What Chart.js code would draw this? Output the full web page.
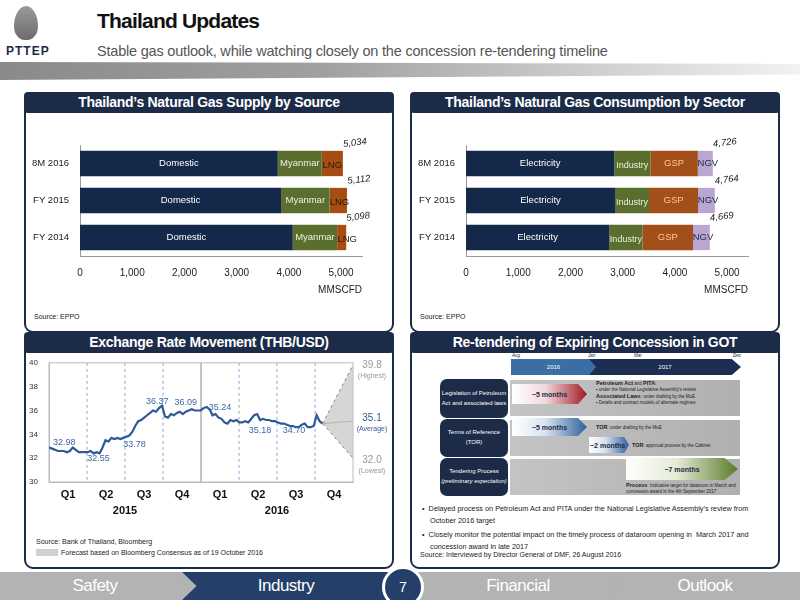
<!DOCTYPE html>
<html><head><meta charset="utf-8">
<script src="https://cdn.jsdelivr.net/npm/chart.js@4"></script>
<style>
body{margin:0;width:800px;height:600px;position:relative;background:#fff;font-family:"Liberation Sans",Arial,sans-serif;overflow:hidden}
.abs{position:absolute}
.panel{position:absolute;border:2px solid #1c2b48;border-radius:9px;background:#fff}
.tab{position:absolute;background:#1c2b48;color:#fff;font-weight:bold;font-size:14px;text-align:center;border-radius:4px;height:21px;line-height:21px;letter-spacing:-0.3px}
.src{position:absolute;font-size:7px;color:#222}
.rowbox{position:absolute;background:#1c2b48;color:#fff;border-radius:7px;font-size:6px;text-align:center;display:flex;align-items:center;justify-content:center;line-height:1.6;white-space:nowrap}
.band{position:absolute;background:linear-gradient(90deg,#c4c4c4,#b0b0b0)}
.arr{position:absolute;font-size:7px;font-weight:bold;color:#1c2b48;display:flex;align-items:center;justify-content:center;white-space:nowrap;clip-path:polygon(0 0,88% 0,100% 50%,88% 100%,0 100%);}
.tiny{position:absolute;font-size:4.5px;color:#222;line-height:1.3}
.foot{position:absolute;top:572px;height:28px;color:#fff;font-size:17px;display:flex;align-items:center;justify-content:center;letter-spacing:-0.5px}
</style></head><body>
<!-- header -->
<div class="abs" style="left:0;top:62px;width:800px;height:18px;background:linear-gradient(90deg,#8a8a8a 0%,#a0a0a0 40%,#d0d0d0 75%,#f2f2f2 100%);clip-path:polygon(0 0,100% 10%,100% 70%,0 100%)"></div>
<div class="abs" style="left:14px;top:6px;width:24px;height:34px;background:linear-gradient(#9a9a9a,#6c6c6c);border-radius:50% 50% 45% 45%/60% 60% 40% 40%"></div>
<div class="abs" style="left:6px;top:44px;font-size:12px;font-weight:bold;color:#1c2b48;letter-spacing:1px">PTTEP</div>
<div class="abs" style="left:97px;top:9px;font-size:21px;font-weight:bold;color:#111;letter-spacing:-0.8px">Thailand Updates</div>
<div class="abs" style="left:97px;top:43px;font-size:14.5px;color:#555;letter-spacing:-0.2px">Stable gas outlook, while watching closely on the concession re-tendering timeline</div>

<div class="panel" style="left:24px;top:103px;width:366px;height:226px"></div>
<div class="tab" style="left:24px;top:92px;width:370px">Thailand’s Natural Gas Supply by Source</div>
<div class="panel" style="left:410px;top:103px;width:366px;height:226px"></div>
<div class="tab" style="left:410px;top:92px;width:370px">Thailand’s Natural Gas Consumption by Sector</div>
<div class="panel" style="left:24px;top:343px;width:366px;height:222px"></div>
<div class="tab" style="left:24px;top:332px;width:370px">Exchange Rate Movement (THB/USD)</div>
<div class="panel" style="left:410px;top:343px;width:366px;height:222px"></div>
<div class="tab" style="left:410px;top:332px;width:370px">Re-tendering of Expiring Concession in GOT</div>

<canvas id="c1" class="abs" style="left:26px;top:115px" width="364" height="185"></canvas>
<canvas id="c2" class="abs" style="left:412px;top:115px" width="364" height="185"></canvas>
<canvas id="c3" class="abs" style="left:27px;top:355px" width="362" height="170"></canvas>
<div class="src" style="left:34px;top:313px">Source: EPPO</div>
<div class="src" style="left:420px;top:313px">Source: EPPO</div>
<div class="src" style="left:36px;top:538px">Source: Bank of Thailand, Bloomberg</div>
<div class="abs" style="left:36px;top:549px;width:22px;height:7px;background:#d0d0d0"></div>
<div class="src" style="left:61px;top:549px">Forecast based on Bloomberg Consensus as of 19 October 2016</div>

<!-- timeline -->
<div class="tiny" style="left:512px;top:353px;font-style:italic">Aug</div>
<div class="tiny" style="left:588px;top:353px;font-style:italic">Jan</div>
<div class="tiny" style="left:634px;top:353px;font-style:italic">Mar</div>
<div class="tiny" style="left:733px;top:353px;font-style:italic">Dec</div>
<div class="abs" style="left:511px;top:359px;width:230px;height:16px;background:#1c2f52;clip-path:polygon(0 0,96% 0,100% 50%,96% 100%,0 100%)"></div>
<div class="abs" style="left:511px;top:359px;width:85px;height:16px;background:#3c6ea6;clip-path:polygon(0 0,92% 0,100% 50%,92% 100%,0 100%);color:#fff;font-size:6px;display:flex;align-items:center;justify-content:center">2016</div>
<div class="abs" style="left:600px;top:359px;width:130px;height:16px;color:#fff;font-size:6px;display:flex;align-items:center;justify-content:center">2017</div>

<div class="band" style="left:510px;top:380px;width:230px;height:36px"></div>
<div class="band" style="left:510px;top:420px;width:230px;height:36px"></div>
<div class="band" style="left:510px;top:459px;width:230px;height:36px"></div>
<div class="rowbox" style="left:440px;top:379px;width:68px;height:39px"><div>Legislation of Petroleum<br>Act and associated laws</div></div>
<div class="rowbox" style="left:440px;top:419px;width:68px;height:38px"><div>Terms of Reference<br>(TOR)</div></div>
<div class="rowbox" style="left:440px;top:458px;width:68px;height:38px"><div>Tendering Process<br><i>(preliminary expectation)</i></div></div>
<div class="arr" style="left:512px;top:384px;width:75px;height:20px;background:linear-gradient(90deg,#fff,#f0d8dc 45%,#a01822)">~5 months</div>
<div class="arr" style="left:512px;top:418px;width:75px;height:18px;background:linear-gradient(90deg,#fff,#d8e3f0 45%,#2f5f9a)">~5 months</div>
<div class="arr" style="left:589px;top:437px;width:40px;height:16px;background:linear-gradient(90deg,#fff,#d8e3f0 40%,#2f5f9a);justify-content:flex-start;padding-left:1px;box-sizing:border-box">~2 months</div>
<div class="arr" style="left:626px;top:458px;width:112px;height:22px;background:linear-gradient(90deg,#fff,#e4ecd6 45%,#5b7a2a)">~7 months</div>
<div class="tiny" style="left:596px;top:380px;width:145px"><b style="font-size:5.5px">Petroleum Act</b> and <b style="font-size:5.5px">PITA</b>:<br>&#9642; under the National Legislative Assembly's review<br><b style="font-size:5.5px">Associated Laws</b>: under drafting by the MoE<br>&#9642; Details and contract models of alternate regimes</div>
<div class="tiny" style="left:596px;top:424px"><b style="font-size:5.5px">TOR</b>: under drafting by the MoE</div>
<div class="tiny" style="left:632px;top:442px"><b style="font-size:5.5px">TOR</b>: approval process by the Cabinet</div>
<div class="tiny" style="left:626px;top:482px;width:115px"><b style="font-size:5.5px">Process</b>: Indicative target for dataroom in March and concession award in the 4th September 2017</div>
<div class="abs" style="left:420px;top:503px;width:355px;font-size:7.3px;color:#222;line-height:1.6">
<div style="padding-left:10px;text-indent:-8px">&#8226;&nbsp; Delayed process on Petroleum Act and PITA under the National Legislative Assembly’s review from October 2016 target</div>
<div style="padding-left:10px;text-indent:-8px;margin-top:3px">&#8226;&nbsp; Closely monitor the potential impact on the timely process of dataroom opening in &nbsp;March 2017 and concession award in late 2017</div></div>
<div class="src" style="left:420px;top:551px">Source: Interviewed by Director General of DMF, 26 August 2016</div>

<!-- footer -->
<div class="foot" style="left:0;width:800px;background:#b3b3b3"></div>
<div class="foot" style="left:0;width:190px;background:#b3b3b3;clip-path:polygon(0 0,93% 0,100% 50%,93% 100%,0 100%)">Safety</div>
<div class="foot" style="left:182px;width:208px;background:#24406a;clip-path:polygon(0 0,100% 0,100% 100%,0 100%,7% 50%)">Industry</div>
<div class="foot" style="left:420px;width:196px;background:#b3b3b3;clip-path:polygon(0 0,93% 0,100% 50%,93% 100%,0 100%)">Financial</div>
<div class="foot" style="left:610px;width:190px;background:#b3b3b3;clip-path:polygon(0 0,100% 0,100% 100%,0 100%,5% 50%)">Outlook</div>
<div class="abs" style="left:382px;top:566px;width:36px;height:36px;border-radius:50%;background:#24406a;border:3px solid #fff;color:#fff;font-size:14px;display:flex;align-items:center;justify-content:center">7</div>

<script>
// ---------- data ----------
const periods = ["8M 2016","FY 2015","FY 2014"];
const supplyDomestic = [3787,3850,4074];
const supplyMyanmar  = [843,927,850];
const supplyLNG      = [404,335,174];
const supplyTotal    = ["5,034","5,112","5,098"];
const consElectricity = [2840,2853,2742];
const consIndustry    = [691,652,639];
const consGSP         = [908,940,966];
const consNGV         = [287,319,322];
const consTotal       = ["4,726","4,764","4,669"];
const axisTicks = [0,1000,2000,3000,4000,5000];
const quarterLabels = ["Q1","Q2","Q3","Q4","Q1","Q2","Q3","Q4"];
const yearLabels = ["2015","2016"];
// weekly THB/USD, Jan 2015 - mid Oct 2016
const fxWeekly = [32.9,32.8,32.7,32.6,32.6,32.6,32.5,32.6,32.9,32.7,32.5,32.5,32.5,
 32.5,32.6,32.4,32.5,32.4,32.9,33.5,33.4,33.7,33.6,33.7,33.6,33.7,
 33.8,33.9,34.2,34.7,35.1,35.2,35.4,35.6,35.8,36.0,35.9,36.2,36.4,
 35.5,35.4,35.7,35.6,35.8,35.9,35.7,35.9,36.0,36.1,36.0,36.0,36.0,
 36.2,36.3,36.1,35.6,35.7,35.4,35.3,35.0,34.9,35.2,35.1,35.2,35.0,
 35.0,35.1,35.0,35.3,35.6,35.7,35.2,35.3,35.2,35.2,35.1,35.1,35.0,
 34.9,34.9,34.8,34.7,34.7,34.6,34.6,34.8,34.9,34.6,34.6,34.7,35.6,
 35.1,34.9];
const fxForecastHigh = 39.8, fxForecastAvg = 35.1, fxForecastLow = 32.0;
// labelled points: [quarter position, value, label]
const fxCallouts = [[0.4,33.35,"32.98"],[1.3,31.95,"32.55"],[2.25,33.15,"33.78"],[2.85,36.75,"36.37"],[3.6,36.65,"36.09"],[4.5,36.25,"35.24"],[5.55,34.35,"35.18"],[6.45,34.35,"34.70"]];

const FONT = "'Liberation Sans', Arial, sans-serif";
Chart.defaults.font.family = FONT;
Chart.defaults.animation = false;
const fmt = v => String(v).replace(/\B(?=(\d{3})+(?!\d))/g, ",");

function barChart(id, sets, totals){
  return new Chart(document.getElementById(id), {
    type:'bar',
    data:{labels:periods, datasets:sets.map(s=>({label:s.name,data:s.data,backgroundColor:s.color,barPercentage:0.95,categoryPercentage:0.72,txt:s.txt,fs:s.fs}))},
    options:{indexAxis:'y',responsive:false,
      layout:{padding:{top:30,right:28,left:2,bottom:0}},
      plugins:{legend:{display:false},tooltip:{enabled:false}},
      scales:{
        x:{stacked:true,min:0,max:5400,grid:{display:false},border:{color:'#999'},
           afterBuildTicks:s=>{s.ticks=axisTicks.map(v=>({value:v}));},
           ticks:{autoSkip:false,maxRotation:0,color:'#222',font:{size:10},callback:v=>fmt(v)},
           title:{display:true,text:'MMSCFD',align:'end',color:'#222',font:{size:10},padding:{top:2}}},
        y:{stacked:true,grid:{display:false},border:{color:'#999'},ticks:{color:'#222',font:{size:9.5}},afterFit:s=>{s.width=52}}
      }},
    plugins:[{id:'lbl',afterDatasetsDraw(ch){
      const ctx=ch.ctx; ctx.save(); ctx.textAlign='center'; ctx.textBaseline='middle';
      ch.data.datasets.forEach((ds,i)=>{ch.getDatasetMeta(i).data.forEach(b=>{
        ctx.fillStyle=ds.txt; ctx.font=(ds.fs||9.5)+'px '+FONT;
        let cx=(b.base+b.x)/2; if(ds.label==='LNG'||ds.label==='NGV') cx=Math.max(cx,b.base+10);
        ctx.fillText(ds.label,cx,b.y+(ds.label==='Industry'||ds.label==='LNG'?2:0));});});
      const last=ch.getDatasetMeta(ch.data.datasets.length-1);
      ctx.font='italic 9.5px '+FONT; ctx.fillStyle='#222';
      last.data.forEach((b,j)=>{ctx.save();ctx.translate(b.x+12,b.y-b.height/2-8);ctx.rotate(-0.12);ctx.fillText(totals[j],0,0);ctx.restore();});
      ctx.restore();}}]
  });
}
barChart('c1',[
  {name:'Domestic',data:supplyDomestic,color:'#14284a',txt:'#fff'},
  {name:'Myanmar',data:supplyMyanmar,color:'#5a6e2e',txt:'#f0f0e0'},
  {name:'LNG',data:supplyLNG,color:'#a54d12',txt:'#2a1a08'}],supplyTotal);
barChart('c2',[
  {name:'Electricity',data:consElectricity,color:'#14284a',txt:'#fff'},
  {name:'Industry',data:consIndustry,color:'#5a6e2e',txt:'#f0f0e0',fs:9},
  {name:'GSP',data:consGSP,color:'#a24f1a',txt:'#ffc890'},
  {name:'NGV',data:consNGV,color:'#b9a6d3',txt:'#1c2b48'}],consTotal);

// exchange rate
const step = 7.2/(fxWeekly.length-1);
const fxPts = fxWeekly.map((v,i)=>({x:i*step,y:v}));
const lastPt = fxPts[fxPts.length-1];
new Chart(document.getElementById('c3'),{
  type:'line',
  data:{datasets:[
    {data:[lastPt,{x:8,y:fxForecastLow}],borderColor:'#888',borderWidth:1,borderDash:[3,3],pointRadius:0,fill:false},
    {data:[lastPt,{x:8,y:fxForecastHigh}],borderColor:'#888',borderWidth:1,borderDash:[3,3],pointRadius:0,fill:0,backgroundColor:'rgba(200,200,200,0.75)'},
    {data:[lastPt,{x:8,y:fxForecastAvg}],borderColor:'#888',borderWidth:1.3,pointRadius:0},
    {data:fxPts,borderColor:'#2d5a96',borderWidth:2.2,pointRadius:0,tension:0}
  ]},
  options:{responsive:false,layout:{padding:{top:6,right:36,bottom:0}},
    plugins:{legend:{display:false},tooltip:{enabled:false}},
    scales:{
      x:{type:'linear',min:0,max:8,grid:{display:false},border:{color:'#bbb'},ticks:{display:false},afterFit:s=>{s.height=43}},
      y:{min:30,max:40,grid:{display:false},border:{color:'#bbb'},ticks:{stepSize:2,color:'#333',font:{size:8}},afterFit:s=>{s.width=22}}
    }},
  plugins:[{id:'fx',beforeDatasetsDraw(ch){
      const {ctx,chartArea:a,scales:{x}}=ch; ctx.save();
      for(let q=1;q<8;q++){const px=x.getPixelForValue(q);ctx.beginPath();ctx.strokeStyle=q===4?'#888':'#8fa9d0';ctx.lineWidth=1;ctx.setLineDash(q===4?[]:[3,3]);ctx.moveTo(px,a.top);ctx.lineTo(px,a.bottom);ctx.stroke();}
      ctx.setLineDash([]); ctx.strokeStyle='#bbb'; ctx.strokeRect(a.left,a.top,a.right-a.left,a.bottom-a.top); ctx.restore();},
    afterDatasetsDraw(ch){
      const {ctx,chartArea:a,scales:{x,y}}=ch; ctx.save();
      ctx.textAlign='center'; ctx.textBaseline='middle';
      ctx.font='9px '+FONT; ctx.fillStyle='#3a68a8';
      fxCallouts.forEach(c=>ctx.fillText(c[2],x.getPixelForValue(c[0]),y.getPixelForValue(c[1])));
      ctx.fillStyle='#111'; ctx.font='bold 11px '+FONT;
      quarterLabels.forEach((q,i)=>ctx.fillText(q,x.getPixelForValue(i+0.5),a.bottom+13));
      yearLabels.forEach((t,i)=>ctx.fillText(t,x.getPixelForValue(2+4*i),a.bottom+29));
      const rx=a.right+19;
      ctx.font='10px '+FONT; ctx.fillStyle='#999';
      ctx.fillText(fxForecastHigh.toFixed(1),rx,y.getPixelForValue(fxForecastHigh));
      ctx.font='7px '+FONT; ctx.fillText('(Highest)',rx,y.getPixelForValue(fxForecastHigh)+11);
      ctx.font='10px '+FONT; ctx.fillText(fxForecastLow.toFixed(1),rx,y.getPixelForValue(fxForecastLow)+2);
      ctx.font='7px '+FONT; ctx.fillText('(Lowest)',rx,y.getPixelForValue(fxForecastLow)+13);
      ctx.fillStyle='#2d5a96'; ctx.font='10px '+FONT; ctx.fillText(fxForecastAvg.toFixed(1),rx,y.getPixelForValue(fxForecastAvg)-3);
      ctx.font='7px '+FONT; ctx.fillText('(Average)',rx,y.getPixelForValue(fxForecastAvg)+8);
      ctx.restore();}}]
});
</script>
</body></html>
